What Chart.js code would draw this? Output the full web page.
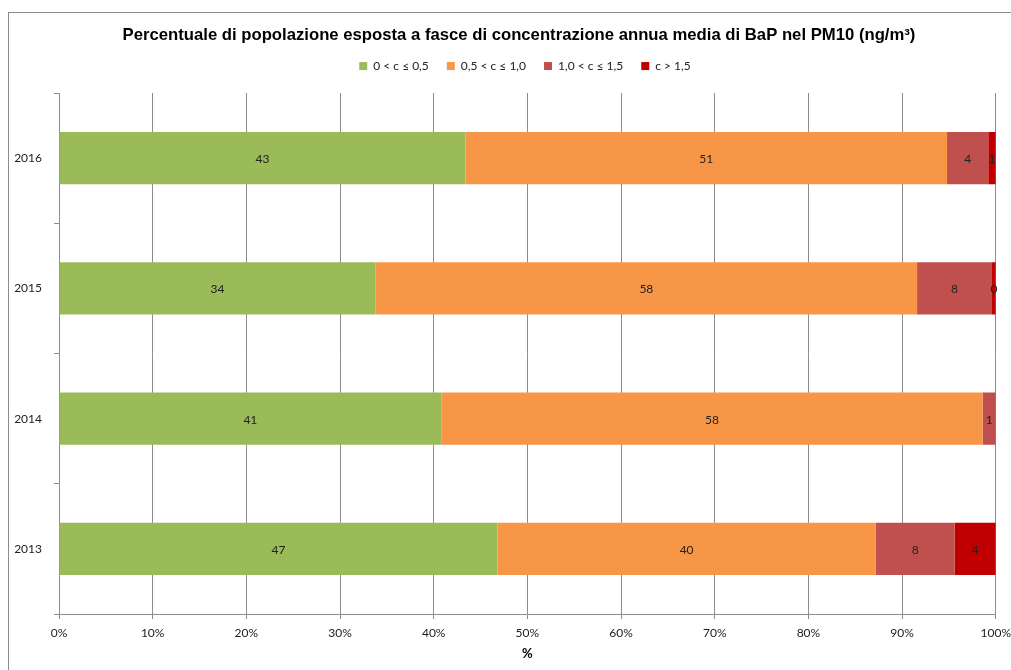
<!DOCTYPE html>
<html>
<head>
<meta charset="utf-8">
<script src="https://cdn.jsdelivr.net/npm/chart.js@4/dist/chart.umd.min.js"></script>
<style>
  html, body { margin: 0; padding: 0; background: #fff; overflow: hidden; }
  #wrap { position: relative; width: 1011px; height: 670px; overflow: hidden; }
  #frame { position: absolute; left: 8px; top: 12px; width: 1100px; height: 700px; border: 1px solid #8c8c8c; }
  canvas { position: absolute; left: 0; top: 0; }
</style>
</head>
<body>
<div id="wrap">
  <div id="frame"></div>
  <canvas id="chart" width="1018" height="670"></canvas>
</div>
<script>
// years, top to bottom
const years = ['2016', '2015', '2014', '2013'];
const bandLabels = ['0 < c ≤ 0,5', '0,5 < c ≤ 1,0', '1,0 < c ≤ 1,5', 'c > 1,5'];
const bandColors = ['#9bbb59', '#f79646', '#c0504d', '#c00000'];

// share of population (%) per band, same order as years
const band1 = [43.4, 33.8, 40.8, 46.8];
const band2 = [51.4, 57.8, 57.8, 40.4];
const band3 = [4.4, 8.0, 1.4, 8.4];
const band4 = [0.8, 0.4, 0, 4.4];

const xTicks = [0, 10, 20, 30, 40, 50, 60, 70, 80, 90, 100];

const gridGrey = '#8c8c8c';
const labelFont = { family: 'Lato, "Open Sans", sans-serif', size: 12 };

// draws the rounded value in the middle of each segment
const segmentLabels = {
  id: 'segmentLabels',
  afterDatasetsDraw(chart) {
    const ctx = chart.ctx;
    ctx.save();
    ctx.font = '12px Lato, "Open Sans", sans-serif';
    ctx.fillStyle = '#222';
    ctx.textAlign = 'center';
    ctx.textBaseline = 'middle';
    chart.data.datasets.forEach((ds, i) => {
      const meta = chart.getDatasetMeta(i);
      meta.data.forEach((bar, j) => {
        const v = ds.data[j];
        if (!v) return;
        ctx.fillText(String(Math.round(v)), (bar.x + bar.base) / 2, bar.y + 1);
      });
    });
    ctx.restore();
  }
};

// Excel-like spacing: more room under the legend, title and legend a bit right of centre
function shiftBox(box, dx) {
  const draw = box.draw;
  box.draw = function (...args) {
    this.ctx.save();
    this.ctx.translate(dx, 0);
    draw.apply(this, args);
    this.ctx.restore();
  };
}
const headerTweaks = {
  id: 'headerTweaks',
  beforeLayout(chart) {
    const lg = chart.legend;
    if (lg && !lg._patched) {
      lg._patched = true;
      const fit = lg.fit;
      lg.fit = function () { fit.call(this); this.height += 11; };
      shiftBox(lg, 18);
    }
    const tb = chart.titleBlock;
    if (tb && !tb._patched) {
      tb._patched = true;
      shiftBox(tb, 12);
    }
  }
};

const allBands = [band1, band2, band3, band4];

new Chart(document.getElementById('chart'), {
  type: 'bar',
  data: {
    labels: years,
    datasets: allBands.map((vals, i) => ({
      label: bandLabels[i],
      data: vals,
      backgroundColor: bandColors[i],
      borderWidth: 0,
      categoryPercentage: 1,
      barPercentage: 0.4
    }))
  },
  options: {
    indexAxis: 'y',
    responsive: false,
    animation: false,
    layout: { padding: { left: 8, right: 12, top: 14, bottom: 8 } },
    plugins: {
      title: {
        display: true,
        text: 'Percentuale di popolazione esposta a fasce di concentrazione annua media di BaP nel PM10 (ng/m³)',
        color: '#000',
        font: { family: '"Liberation Sans", Arial, sans-serif', size: 16.7, weight: 'bold' },
        padding: { top: 11, bottom: -3 }
      },
      legend: {
        position: 'top',
        labels: {
          boxWidth: 8,
          boxHeight: 8,
          padding: 18,
          color: '#222',
          font: { family: 'Lato, "Open Sans", sans-serif', size: 12 }
        }
      },
      tooltip: { enabled: false }
    },
    scales: {
      x: {
        stacked: true,
        min: 0,
        max: 100,
        afterBuildTicks: scale => { scale.ticks = xTicks.map(v => ({ value: v })); },
        ticks: {
          callback: v => v + '%',
          color: '#222',
          font: labelFont,
          padding: 7,
          maxRotation: 0
        },
        grid: { color: gridGrey, tickLength: 5, tickColor: gridGrey },
        border: { color: gridGrey },
        title: {
          display: true,
          text: '%',
          color: '#000',
          font: { family: 'Lato, "Open Sans", sans-serif', size: 13, weight: 'bold' },
          padding: { top: -1, bottom: 0 }
        }
      },
      y: {
        stacked: true,
        afterFit: scale => { scale.width = 51; },
        ticks: { color: '#222', font: labelFont, padding: 12 },
        grid: { drawOnChartArea: false, offset: true, tickLength: 5, color: gridGrey },
        border: { color: gridGrey }
      }
    }
  },
  plugins: [segmentLabels, headerTweaks]
});
</script>
</body>
</html>
